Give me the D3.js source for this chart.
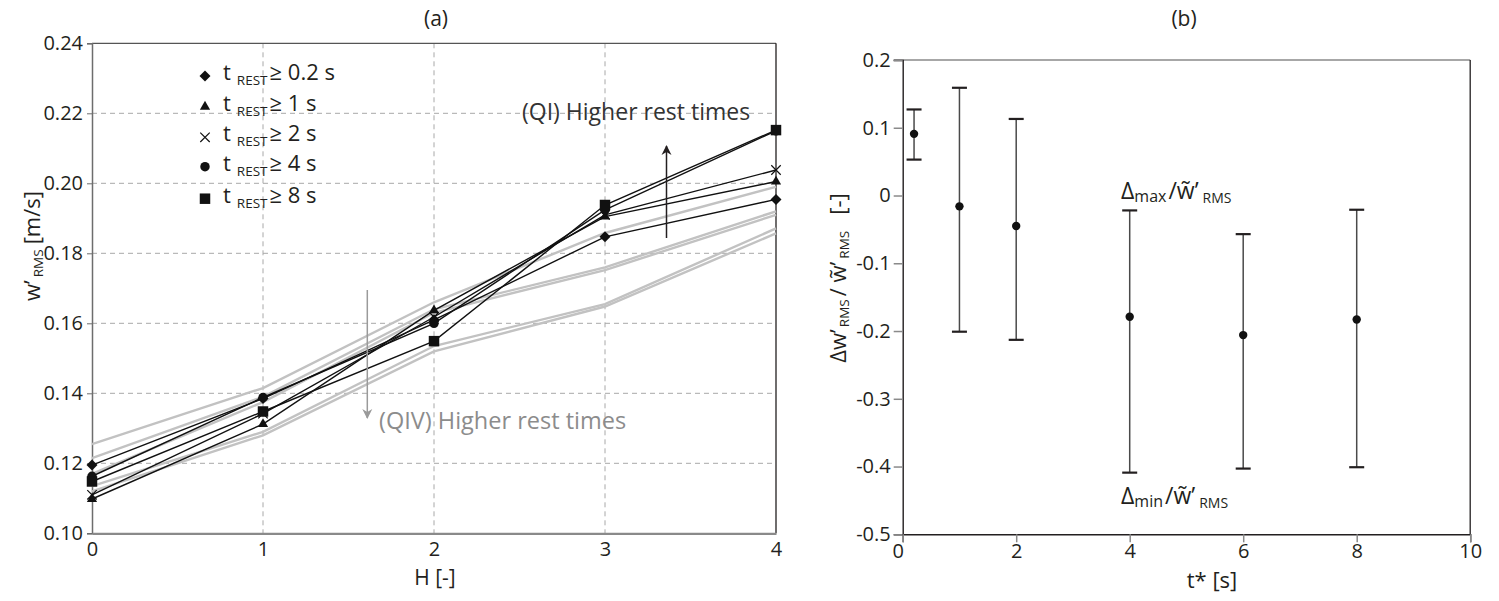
<!DOCTYPE html>
<html>
<head>
<meta charset="utf-8">
<script src="https://cdn.jsdelivr.net/npm/d3@7"></script>
<style>
  html, body { margin: 0; padding: 0; background: #fff; }
  svg { display: block; font-family: "Open Sans", "DejaVu Sans", sans-serif; fill: #231f20; }
</style>
</head>
<body>
<svg id="chart" width="1499" height="601"></svg>
<script>
// ---- Panel (a): w'_RMS against H for rest-time thresholds ----
const hValues = [0, 1, 2, 3, 4];
const restLabels = ["0.2", "1", "2", "4", "8"];
const wDiamond  = [0.1195, 0.1385, 0.1610, 0.1847, 0.1954];
const wTriangle = [0.1098, 0.1312, 0.1637, 0.1905, 0.2005];
const wCross    = [0.1110, 0.1342, 0.1618, 0.1910, 0.2038];
const wCircle   = [0.1163, 0.1388, 0.1600, 0.1924, 0.2150];
const wSquare   = [0.1148, 0.1348, 0.1549, 0.1938, 0.2152];
// QIV curves (grey, no markers)
const qivA = [0.1255, 0.1415, 0.1660, 0.1858, 0.1990];
const qivB = [0.1215, 0.1390, 0.1640, 0.1760, 0.1920];
const qivC = [0.1170, 0.1375, 0.1630, 0.1752, 0.1910];
const qivD = [0.1135, 0.1290, 0.1535, 0.1655, 0.1871];
const qivE = [0.1120, 0.1280, 0.1520, 0.1648, 0.1857];
const yTicksA = [0.10, 0.12, 0.14, 0.16, 0.18, 0.20, 0.22, 0.24];
const xTicksA = [0, 1, 2, 3, 4];

// ---- Panel (b): normalised deviation against t* ----
const tStar   = [0.2, 1, 2, 4, 6, 8];
const devMean = [0.091, -0.016, -0.045, -0.179, -0.206, -0.183];
const devMax  = [0.127, 0.159, 0.113, -0.022, -0.057, -0.021];
const devMin  = [0.053, -0.201, -0.213, -0.409, -0.403, -0.401];
const yTicksB = [0.2, 0.1, 0, -0.1, -0.2, -0.3, -0.4, -0.5];
const xTicksB = [0, 2, 4, 6, 8, 10];

const svg = d3.select("#chart");
const TXT = "#231f20";

// scales
const xA = d3.scaleLinear().domain([0, 4]).range([92, 776]);
const yA = d3.scaleLinear().domain([0.10, 0.24]).range([533.3, 43.3]);
const xB = d3.scaleLinear().domain([0, 10]).range([902.7, 1470.2]);
const yB = d3.scaleLinear().domain([-0.5, 0.2]).range([534.3, 60]);

// arrow heads
const defs = svg.append("defs");
function arrowHead(id, color) {
  defs.append("marker").attr("id", id).attr("viewBox", "0 0 10 10")
    .attr("refX", 9).attr("refY", 5).attr("markerWidth", 10).attr("markerHeight", 14)
    .attr("markerUnits", "userSpaceOnUse").attr("orient", "auto")
    .append("path").attr("d", "M0,0 L10,5 L0,10 L3,5 Z").attr("fill", color);
}
arrowHead("arrBlack", "#231f20");
arrowHead("arrGrey", "#9a9a9a");

// diamond = square turned by 45 degrees
const diamondSym = {
  draw(ctx, size) {
    const r = Math.sqrt(size / 2);
    ctx.moveTo(0, -r); ctx.lineTo(r, 0); ctx.lineTo(0, r); ctx.lineTo(-r, 0); ctx.closePath();
  }
};

// ================= Panel (a) =================
const gA = svg.append("g");

// grid
gA.append("g").selectAll("line").data(yTicksA.filter(v => v > 0.10 && v < 0.24)).join("line")
  .attr("x1", xA(0)).attr("x2", xA(4)).attr("y1", d => yA(d)).attr("y2", d => yA(d))
  .attr("stroke", "#a8a8a8").attr("stroke-width", 1).attr("stroke-dasharray", "5,4");
gA.append("g").selectAll("line").data(xTicksA.filter(v => v > 0 && v < 4)).join("line")
  .attr("x1", d => xA(d)).attr("x2", d => xA(d)).attr("y1", yA(0.24)).attr("y2", yA(0.10))
  .attr("stroke", "#a8a8a8").attr("stroke-width", 1).attr("stroke-dasharray", "5,4");

// frame
gA.append("line").attr("x1", xA(0)).attr("x2", xA(4)).attr("y1", yA(0.24)).attr("y2", yA(0.24))
  .attr("stroke", "#555").attr("stroke-width", 1.2);
gA.append("line").attr("x1", xA(4)).attr("x2", xA(4)).attr("y1", yA(0.24)).attr("y2", yA(0.10))
  .attr("stroke", "#231f20").attr("stroke-width", 1.3);

// axes
const axLeftA = gA.append("g").attr("transform", `translate(${xA(0)},0)`)
  .call(d3.axisLeft(yA).tickValues(yTicksA).tickFormat(d3.format(".2f")).tickSize(5).tickPadding(4));
const axBottomA = gA.append("g").attr("transform", `translate(0,${yA(0.10)})`)
  .call(d3.axisBottom(xA).tickValues(xTicksA).tickFormat(d3.format("d")).tickSize(0).tickPadding(9));
[axLeftA, axBottomA].forEach(ax => {
  ax.selectAll("text").attr("font-size", 20).attr("fill", TXT).attr("font-family", "Open Sans");
});
axLeftA.select(".domain").attr("stroke", "#6d6d6d").attr("stroke-width", 1.5);
axLeftA.selectAll(".tick line").attr("stroke", "#6d6d6d");
axBottomA.select(".domain").attr("stroke", "#8a8a8a").attr("stroke-width", 2.2);

// grey QIV curves
const lineA = d3.line().x((d, i) => xA(hValues[i])).y(d => yA(d));
gA.append("g").selectAll("path").data([qivA, qivB, qivC, qivD, qivE]).join("path")
  .attr("d", lineA).attr("fill", "none").attr("stroke", "#c2c2c2").attr("stroke-width", 2.4);

// black QI curves
const blackSeries = [
  { vals: wDiamond,  sym: diamondSym,        size: 60, stroke: false },
  { vals: wTriangle, sym: d3.symbolTriangle, size: 45, stroke: false },
  { vals: wCross,    sym: d3.symbolX,        size: 60, stroke: true },
  { vals: wCircle,   sym: d3.symbolCircle,   size: 70, stroke: false },
  { vals: wSquare,   sym: d3.symbolSquare,   size: 110, stroke: false }
];
blackSeries.forEach(s => {
  gA.append("path").attr("d", lineA(s.vals)).attr("fill", "none")
    .attr("stroke", "#111").attr("stroke-width", 1.4);
});
blackSeries.forEach(s => {
  gA.append("g").selectAll("path").data(s.vals).join("path")
    .attr("transform", (d, i) => `translate(${xA(hValues[i])},${yA(d)})`)
    .attr("d", d3.symbol().type(s.sym).size(s.size))
    .attr("fill", s.stroke ? "none" : "#111")
    .attr("stroke", s.stroke ? "#111" : "none").attr("stroke-width", 1.2);
});

// legend
const legend = gA.append("g");
blackSeries.forEach((s, i) => {
  const yRow = [76, 106.7, 137.3, 166.7, 198.7][i];
  legend.append("path").attr("transform", `translate(205,${yRow})`)
    .attr("d", d3.symbol().type(s.sym).size(s.size))
    .attr("fill", s.stroke ? "none" : "#111")
    .attr("stroke", s.stroke ? "#111" : "none").attr("stroke-width", 1.2);
  const t = legend.append("text").attr("x", 223).attr("y", yRow + 4).attr("font-size", 22).attr("fill", TXT);
  t.append("tspan").text("t");
  t.append("tspan").attr("dx", 6).attr("dy", 5).attr("font-size", 13.5).text("REST");
  t.append("tspan").attr("dx", 2).attr("dy", -5).text(`\u2265 ${restLabels[i]} s`);
});

// annotations
gA.append("line").attr("x1", 666.5).attr("x2", 666.5).attr("y1", 238).attr("y2", 146)
  .attr("stroke", "#231f20").attr("stroke-width", 1.5).attr("marker-end", "url(#arrBlack)");
gA.append("text").attr("x", 522).attr("y", 120).attr("font-size", 23).attr("fill", "#333")
  .text("(QI) Higher rest times");
gA.append("line").attr("x1", 367.3).attr("x2", 367.3).attr("y1", 290).attr("y2", 418)
  .attr("stroke", "#9a9a9a").attr("stroke-width", 1.5).attr("marker-end", "url(#arrGrey)");
gA.append("text").attr("x", 379).attr("y", 429).attr("font-size", 23.5).attr("fill", "#8c8c8c")
  .text("(QIV) Higher rest times");

// titles
gA.append("text").attr("x", 436).attr("y", 26).attr("text-anchor", "middle").attr("font-size", 21)
  .attr("fill", TXT).text("(a)");
gA.append("text").attr("x", 435).attr("y", 585).attr("text-anchor", "middle").attr("font-size", 21)
  .attr("fill", TXT).text("H [-]");
const ylabA = gA.append("text").attr("transform", "translate(40,246) rotate(-90)")
  .attr("text-anchor", "middle").attr("font-size", 22).attr("fill", TXT);
ylabA.append("tspan").text("w\u2019");
ylabA.append("tspan").attr("dx", 3).attr("dy", 3).attr("font-size", 13.5).text("RMS");
ylabA.append("tspan").attr("dx", 5).attr("dy", -3).text("[m/s]");

// ================= Panel (b) =================
const gB = svg.append("g");

// frame
gB.append("line").attr("x1", xB(0) - 9).attr("x2", xB(10)).attr("y1", yB(0.2)).attr("y2", yB(0.2))
  .attr("stroke", "#8a8a8a").attr("stroke-width", 1.5);
gB.append("line").attr("x1", xB(10)).attr("x2", xB(10)).attr("y1", yB(0.2)).attr("y2", yB(-0.5))
  .attr("stroke", "#231f20").attr("stroke-width", 1.3);

const axLeftB = gB.append("g").attr("transform", `translate(${xB(0)},0)`)
  .call(d3.axisLeft(yB).tickValues(yTicksB).tickFormat(d => d === 0 ? "0" : d3.format(".1f")(d).replace("\u2212", "-"))
    .tickSize(9).tickPadding(3));
const axBottomB = gB.append("g").attr("transform", `translate(0,${yB(-0.5)})`)
  .call(d3.axisBottom(xB).tickValues(xTicksB).tickFormat(d3.format("d")).tickSize(8).tickPadding(2));
[axLeftB, axBottomB].forEach(ax => {
  ax.selectAll("text").attr("font-size", 20).attr("fill", TXT).attr("font-family", "Open Sans");
  ax.select(".domain").attr("stroke", "#231f20").attr("stroke-width", 1.4);
  ax.selectAll(".tick line").attr("stroke", "#8a8a8a").attr("stroke-width", 1.5);
});
axBottomB.selectAll(".tick text").attr("dx", d => d === 0 ? -5 : 0);

// error bars
const bars = gB.append("g").selectAll("g").data(tStar).join("g");
bars.append("line").attr("x1", d => xB(d)).attr("x2", d => xB(d))
  .attr("y1", (d, i) => yB(devMax[i])).attr("y2", (d, i) => yB(devMin[i]))
  .attr("stroke", "#4a4a4a").attr("stroke-width", 1.5);
bars.append("line").attr("x1", d => xB(d) - 7.5).attr("x2", d => xB(d) + 7.5)
  .attr("y1", (d, i) => yB(devMax[i])).attr("y2", (d, i) => yB(devMax[i]))
  .attr("stroke", "#231f20").attr("stroke-width", 2.2);
bars.append("line").attr("x1", d => xB(d) - 7.5).attr("x2", d => xB(d) + 7.5)
  .attr("y1", (d, i) => yB(devMin[i])).attr("y2", (d, i) => yB(devMin[i]))
  .attr("stroke", "#231f20").attr("stroke-width", 2.2);
bars.append("circle").attr("cx", d => xB(d)).attr("cy", (d, i) => yB(devMean[i])).attr("r", 4.2)
  .attr("fill", "#111");

// bound labels
function boundLabel(x, y, sub) {
  const t = gB.append("text").attr("x", x).attr("y", y).attr("font-size", 23).attr("fill", TXT);
  t.append("tspan").text("\u0394");
  t.append("tspan").attr("dy", 3).attr("font-size", 16).text(sub);
  t.append("tspan").attr("dy", -3).attr("dx", 2).text("/w\u0303\u2019");
  t.append("tspan").attr("dx", 4).attr("dy", 4).attr("font-size", 14).text("RMS");
}
boundLabel(1121, 199, "max");
boundLabel(1121, 504, "min");

gB.append("text").attr("x", 1184).attr("y", 26).attr("text-anchor", "middle").attr("font-size", 21)
  .attr("fill", TXT).text("(b)");
gB.append("text").attr("x", 1212).attr("y", 588).attr("text-anchor", "middle").attr("font-size", 22)
  .attr("fill", TXT).text("t* [s]");

const ylabB = gB.append("text").attr("transform", "translate(846,278) rotate(-90)")
  .attr("text-anchor", "middle").attr("font-size", 22).attr("fill", TXT);
ylabB.append("tspan").text("\u0394w\u2019");
ylabB.append("tspan").attr("dx", 2).attr("dy", 3).attr("font-size", 13.5).text("RMS");
ylabB.append("tspan").attr("dx", 3).attr("dy", -3).text("/ w\u0303\u2019");
ylabB.append("tspan").attr("dx", 3).attr("dy", 3).attr("font-size", 13.5).text("RMS");
ylabB.append("tspan").attr("dx", 16).attr("dy", -3).text("[-]");
</script>
</body>
</html>
